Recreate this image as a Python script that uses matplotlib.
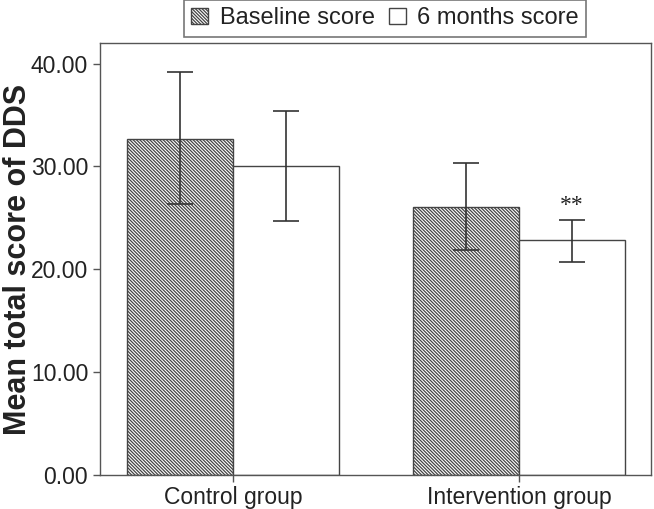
import matplotlib
matplotlib.use("Agg")
import matplotlib.pyplot as plt
import numpy as np

plt.rcParams['font.family'] = ['Liberation Sans', 'DejaVu Sans']
plt.rcParams['hatch.linewidth'] = 0.9
plt.rcParams['hatch.color'] = '#555555'

groups = ["Control group", "Intervention group"]
series = ["Baseline score", "6 months score"]
baseline = [32.7, 26.1]
baseline_lo = [26.3, 21.9]
baseline_hi = [39.2, 30.3]
months6 = [30.0, 22.8]
months6_lo = [24.7, 20.7]
months6_hi = [35.4, 24.8]

edge = "#444444"
x = np.arange(len(groups))
width = 0.37

fig = plt.figure(figsize=(6.54, 5.09), dpi=100)
ax = fig.add_axes([0.1529, 0.0668, 0.8425, 0.8487])

b1 = ax.bar(x - width / 2, baseline, width, color="white", edgecolor=edge,
            hatch="\\" * 10, linewidth=1.0, label=series[0])
b2 = ax.bar(x + width / 2, months6, width, color="white", edgecolor=edge,
            linewidth=1.0, label=series[1])

err1 = [np.array(baseline) - np.array(baseline_lo), np.array(baseline_hi) - np.array(baseline)]
err2 = [np.array(months6) - np.array(months6_lo), np.array(months6_hi) - np.array(months6)]
ax.errorbar(x - width / 2, baseline, yerr=err1, fmt="none", ecolor="#333333",
            elinewidth=1.2, capsize=9.5, capthick=1.2)
ax.errorbar(x + width / 2, months6, yerr=err2, fmt="none", ecolor="#333333",
            elinewidth=1.2, capsize=9.5, capthick=1.2)

ax.text(x[1] + width / 2, months6_hi[1] + 0.4, "**", ha="center", va="bottom",
        fontsize=17, family="Liberation Serif", color="#222222")

ax.set_xlim(-0.465, 1.462)
ax.set_ylim(0, 42)
ax.set_yticks([0, 10, 20, 30, 40])
ax.set_yticklabels(["0.00", "10.00", "20.00", "30.00", "40.00"])
ax.set_xticks(x)
ax.set_xticklabels(groups)
ax.tick_params(axis="both", labelsize=16.5, colors="#222222", length=5, width=1.0,
               direction="out")
ax.tick_params(axis="x", pad=3)
ax.tick_params(axis="both", color="#555555")
for s in ax.spines.values():
    s.set_color("#555555")
    s.set_linewidth(1.0)

# y label placed by hand so it sits against the left edge like the original
fig.text(3 / 654, 0.491, "Mean total score of DDS", rotation=90, ha="left",
         va="center", fontsize=22, fontweight="bold", color="#222222")

leg = fig.legend(handles=[b1, b2], labels=series, loc="center",
                 bbox_to_anchor=(0.589, 0.9637), ncol=2, fontsize=17,
                 frameon=True, fancybox=False, handlelength=0.7,
                 handleheight=0.7, handletextpad=0.5, columnspacing=0.6,
                 borderpad=0.3, borderaxespad=0)
leg.get_frame().set_edgecolor("#555555")
leg.get_frame().set_linewidth(1.2)
for t in leg.get_texts():
    t.set_color("#222222")

fig.savefig("out.png", dpi=100)
